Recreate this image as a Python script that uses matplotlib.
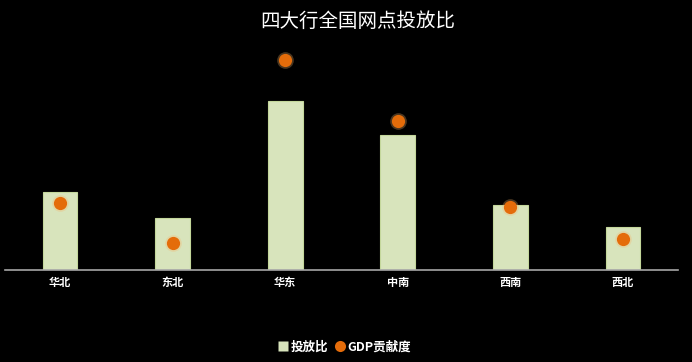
import matplotlib.pyplot as plt
from matplotlib.lines import Line2D
import numpy as np

plt.rcParams['font.family'] = ['Noto Sans CJK SC', 'DejaVu Sans']

# regions and shares (%)
regions = ["华北", "东北", "华东", "中南", "西南", "西北"]
branch_share = [14.4, 9.6, 31.2, 24.9, 12.0, 7.9]   # 投放比
gdp_share = [12.3, 5.0, 38.7, 27.5, 11.6, 5.7]      # GDP贡献度

bar_color = "#d8e4bc"
dot_color = "#e46c0a"

fig = plt.figure(figsize=(6.92, 3.62), dpi=100, facecolor="black")
ax = fig.add_axes([0.007, 0.254, 0.973, 0.635], facecolor="black")

x = np.arange(len(regions))
ax.bar(x, branch_share, width=0.31, color=bar_color, edgecolor="#c4d79b",
       linewidth=0.8, zorder=2)
# soft glow behind the dots
ax.plot(x, gdp_share, "o", ms=12, color="#f7b46a", alpha=0.3, mec="none", zorder=3)
ax.plot(x, gdp_share, "o", ms=9.5, color=dot_color, mec="none", zorder=4)

ax.set_xlim(-0.49, 5.49)
ax.set_ylim(0, 42.4)
ax.set_yticks([])
ax.set_xticks(x)
ax.set_xticklabels(regions, color="white", fontsize=8, fontweight="bold")
ax.tick_params(axis="x", length=0, pad=4)
for side in ["top", "right", "left"]:
    ax.spines[side].set_visible(False)
ax.spines["bottom"].set_color("#a6a6a6")
ax.spines["bottom"].set_linewidth(1.2)

fig.text(0.517, 0.94, "四大行全国网点投放比", color="white", fontsize=14,
         ha="center", va="center")

handles = [
    Line2D([], [], marker="s", ls="none", ms=7, color=bar_color, mec="none"),
    Line2D([], [], marker="o", ls="none", ms=8, color=dot_color, mec="none"),
]
fig.legend(handles, ["投放比", "GDP贡献度"], loc="center", ncol=2,
           bbox_to_anchor=(0.497, 0.042), frameon=False,
           prop={"size": 9, "weight": "bold"},
           labelcolor="white", handletextpad=0.1, columnspacing=0.4,
           handlelength=1.0)

fig.savefig("out.png", dpi=100, facecolor="black")
